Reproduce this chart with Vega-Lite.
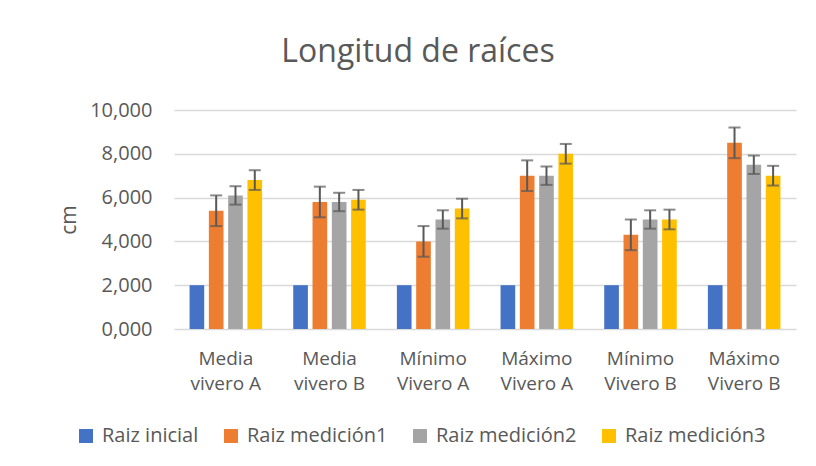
{
  "$schema": "https://vega.github.io/schema/vega-lite/v6.json",
  "autosize": "none",
  "width": 622,
  "height": 219,
  "padding": {"left": 174, "top": 110, "right": 20, "bottom": 137},
  "background": "white",
  "title": {
    "text": "Longitud de raíces",
    "anchor": "middle",
    "dx": -67,
    "offset": 31,
    "font": "Open Sans",
    "fontSize": 32,
    "fontWeight": "normal",
    "color": "#595959"
  },
  "data": {
    "values": [
      {"grupo": "Media|vivero A", "serie": "Raiz inicial", "valor": 2.0},
      {"grupo": "Media|vivero A", "serie": "Raiz medición1", "valor": 5.4, "lo": 4.7, "hi": 6.1},
      {"grupo": "Media|vivero A", "serie": "Raiz medición2", "valor": 6.1, "lo": 5.68, "hi": 6.52},
      {"grupo": "Media|vivero A", "serie": "Raiz medición3", "valor": 6.8, "lo": 6.35, "hi": 7.25},
      {"grupo": "Media|vivero B", "serie": "Raiz inicial", "valor": 2.0},
      {"grupo": "Media|vivero B", "serie": "Raiz medición1", "valor": 5.8, "lo": 5.1, "hi": 6.5},
      {"grupo": "Media|vivero B", "serie": "Raiz medición2", "valor": 5.8, "lo": 5.38, "hi": 6.22},
      {"grupo": "Media|vivero B", "serie": "Raiz medición3", "valor": 5.9, "lo": 5.45, "hi": 6.35},
      {"grupo": "Mínimo|Vivero A", "serie": "Raiz inicial", "valor": 2.0},
      {"grupo": "Mínimo|Vivero A", "serie": "Raiz medición1", "valor": 4.0, "lo": 3.3, "hi": 4.7},
      {"grupo": "Mínimo|Vivero A", "serie": "Raiz medición2", "valor": 5.0, "lo": 4.58, "hi": 5.42},
      {"grupo": "Mínimo|Vivero A", "serie": "Raiz medición3", "valor": 5.5, "lo": 5.05, "hi": 5.95},
      {"grupo": "Máximo|Vivero A", "serie": "Raiz inicial", "valor": 2.0},
      {"grupo": "Máximo|Vivero A", "serie": "Raiz medición1", "valor": 7.0, "lo": 6.3, "hi": 7.7},
      {"grupo": "Máximo|Vivero A", "serie": "Raiz medición2", "valor": 7.0, "lo": 6.58, "hi": 7.42},
      {"grupo": "Máximo|Vivero A", "serie": "Raiz medición3", "valor": 8.0, "lo": 7.55, "hi": 8.45},
      {"grupo": "Mínimo|Vivero B", "serie": "Raiz inicial", "valor": 2.0},
      {"grupo": "Mínimo|Vivero B", "serie": "Raiz medición1", "valor": 4.3, "lo": 3.6, "hi": 5.0},
      {"grupo": "Mínimo|Vivero B", "serie": "Raiz medición2", "valor": 5.0, "lo": 4.58, "hi": 5.42},
      {"grupo": "Mínimo|Vivero B", "serie": "Raiz medición3", "valor": 5.0, "lo": 4.55, "hi": 5.45},
      {"grupo": "Máximo|Vivero B", "serie": "Raiz inicial", "valor": 2.0},
      {"grupo": "Máximo|Vivero B", "serie": "Raiz medición1", "valor": 8.5, "lo": 7.8, "hi": 9.2},
      {"grupo": "Máximo|Vivero B", "serie": "Raiz medición2", "valor": 7.5, "lo": 7.08, "hi": 7.92},
      {"grupo": "Máximo|Vivero B", "serie": "Raiz medición3", "valor": 7.0, "lo": 6.55, "hi": 7.45}
    ]
  },
  "encoding": {
    "x": {
      "field": "grupo",
      "type": "nominal",
      "sort": ["Media|vivero A", "Media|vivero B", "Mínimo|Vivero A", "Máximo|Vivero A", "Mínimo|Vivero B", "Máximo|Vivero B"],
      "scale": {"paddingInner": 0.3, "paddingOuter": 0.15},
      "axis": {
        "title": null,
        "labelAngle": 0,
        "labelExpr": "split(datum.label, '|')",
        "labelFont": "Open Sans",
        "labelFontSize": 19,
        "labelColor": "#595959",
        "labelLineHeight": 25,
        "labelPadding": 20,
        "domain": false,
        "ticks": false,
        "grid": false
      }
    },
    "xOffset": {
      "field": "serie",
      "type": "nominal",
      "sort": ["Raiz inicial", "Raiz medición1", "Raiz medición2", "Raiz medición3"],
      "scale": {"paddingInner": 0.24, "paddingOuter": 0}
    }
  },
  "layer": [
    {
      "mark": {"type": "bar"},
      "encoding": {
        "y": {
          "field": "valor",
          "type": "quantitative",
          "scale": {"domain": [0, 10]},
          "axis": {
            "title": "cm",
            "titleFont": "Open Sans",
            "titleFontSize": 21,
            "titleFontWeight": "normal",
            "titleColor": "#595959",
            "titlePadding": 10,
            "values": [0, 2, 4, 6, 8, 10],
            "labelExpr": "replace(format(datum.value, '.3f'), '.', ',')",
            "labelFont": "Open Sans",
            "labelFontSize": 20,
            "labelColor": "#595959",
            "labelPadding": 22,
            "domain": false,
            "ticks": false,
            "grid": true,
            "gridColor": "#D9D9D9",
            "gridWidth": 1.5
          }
        },
        "color": {
          "field": "serie",
          "type": "nominal",
          "sort": ["Raiz inicial", "Raiz medición1", "Raiz medición2", "Raiz medición3"],
          "scale": {
            "domain": ["Raiz inicial", "Raiz medición1", "Raiz medición2", "Raiz medición3"],
            "range": ["#4472C4", "#ED7D31", "#A5A5A5", "#FFC000"]
          },
          "legend": {
            "title": null,
            "orient": "none",
            "direction": "horizontal",
            "legendX": -98,
            "legendY": 316,
            "symbolType": "square",
            "symbolSize": 196,
            "symbolStrokeWidth": 0,
            "labelFont": "Open Sans",
            "labelFontSize": 20,
            "labelColor": "#595959",
            "labelOffset": 6,
            "columnPadding": 22
          }
        }
      }
    },
    {
      "transform": [{"filter": "isValid(datum.lo)"}],
      "mark": {"type": "rule", "color": "#595959", "strokeWidth": 2},
      "encoding": {
        "y": {"field": "lo", "type": "quantitative"},
        "y2": {"field": "hi"}
      }
    },
    {
      "transform": [{"filter": "isValid(datum.lo)"}],
      "mark": {"type": "tick", "color": "#595959", "thickness": 2, "size": 12, "orient": "horizontal"},
      "encoding": {
        "y": {"field": "lo", "type": "quantitative"}
      }
    },
    {
      "transform": [{"filter": "isValid(datum.hi)"}],
      "mark": {"type": "tick", "color": "#595959", "thickness": 2, "size": 12, "orient": "horizontal"},
      "encoding": {
        "y": {"field": "hi", "type": "quantitative"}
      }
    }
  ],
  "config": {
    "view": {"stroke": null}
  }
}
